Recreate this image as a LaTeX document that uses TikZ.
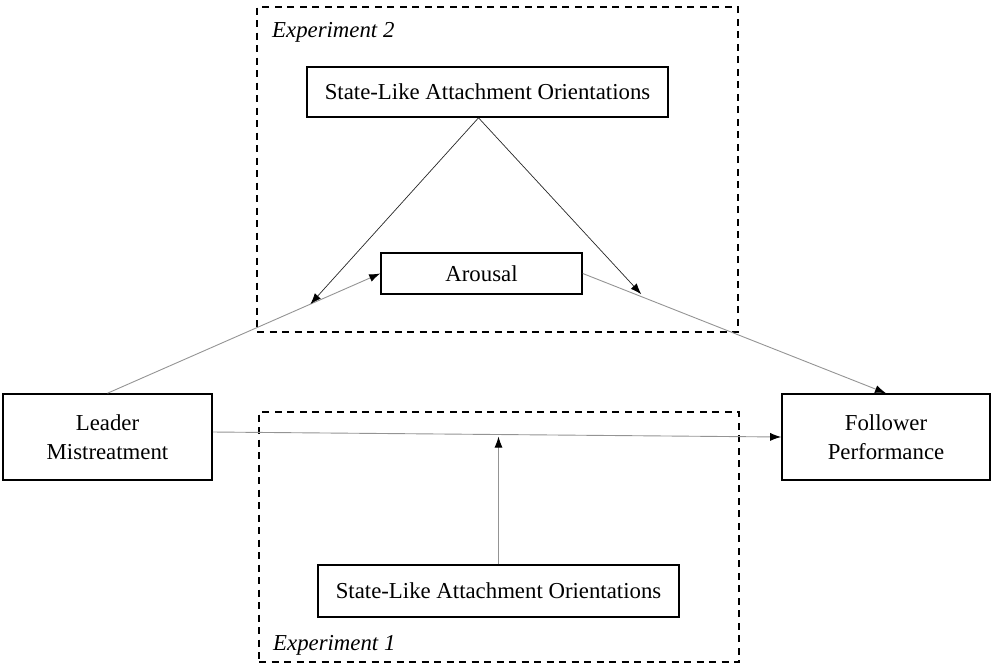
\documentclass[tikz,border=0pt]{standalone}
\usepackage{fontspec}
\setmainfont{Liberation Serif}
\usetikzlibrary{arrows.meta}
\tikzset{
  varbox/.style={draw, line width=1.6pt, align=center},
  groupbox/.style={draw, line width=1.8pt, dash pattern=on 7pt off 5.5pt},
  grayarrow/.style={draw=black!42, line width=0.9pt, -{Latex[length=11pt,width=8pt,color=black]}},
  modarrow/.style={draw=black!85, line width=0.7pt, -{Latex[length=11pt,width=8pt,color=black]}}
}
\begin{document}
\begin{tikzpicture}[x=1pt, y=-1pt, every node/.style={inner sep=0pt, font=\fontsize{22.8}{29}\selectfont}]
  \useasboundingbox (0,0) rectangle (992,665);
  % experiment groups
  \node[groupbox, minimum width=481, minimum height=325] (exptwo) at (497.5,169.5) {};
  \node[groupbox, minimum width=480, minimum height=250] (expone) at (499,537) {};
  \node[anchor=base west] (exptwolbl) at (272,37) {\textit{Experiment 2}};
  \node[anchor=base west] (exponelbl) at (273,650) {\textit{Experiment 1}};
  % variables
  \node[varbox, minimum width=361, minimum height=50] (atttop) at (487.5,92) {State-Like Attachment Orientations};
  \node[varbox, minimum width=201, minimum height=41] (arousal) at (481.5,273.5) {Arousal};
  \node[varbox, minimum width=209, minimum height=86] (leader) at (107.5,437) {Leader\\Mistreatment};
  \node[varbox, minimum width=208, minimum height=86] (follower) at (886,437) {Follower\\Performance};
  \node[varbox, minimum width=361, minimum height=52] (attbot) at (498.5,591) {State-Like Attachment Orientations};
  % paths
  \draw[grayarrow] (leader.north) -- (arousal.west) coordinate[pos=0.744] (modleft);
  \draw[grayarrow] (arousal.east) -- (follower.north) coordinate[pos=0.204] (modright);
  \draw[grayarrow] ([yshift=5pt]leader.east) -- (follower.west) coordinate[pos=0.504] (modmid);
  \coordinate (apex) at ([xshift=-9pt]atttop.south);
  \draw[modarrow] (apex) -- (modleft);
  \draw[modarrow, shorten >=5pt] (apex) -- (modright);
  \draw[grayarrow, shorten >=2pt] (attbot.north) -- (attbot.north |- modmid);
\end{tikzpicture}
\end{document}
